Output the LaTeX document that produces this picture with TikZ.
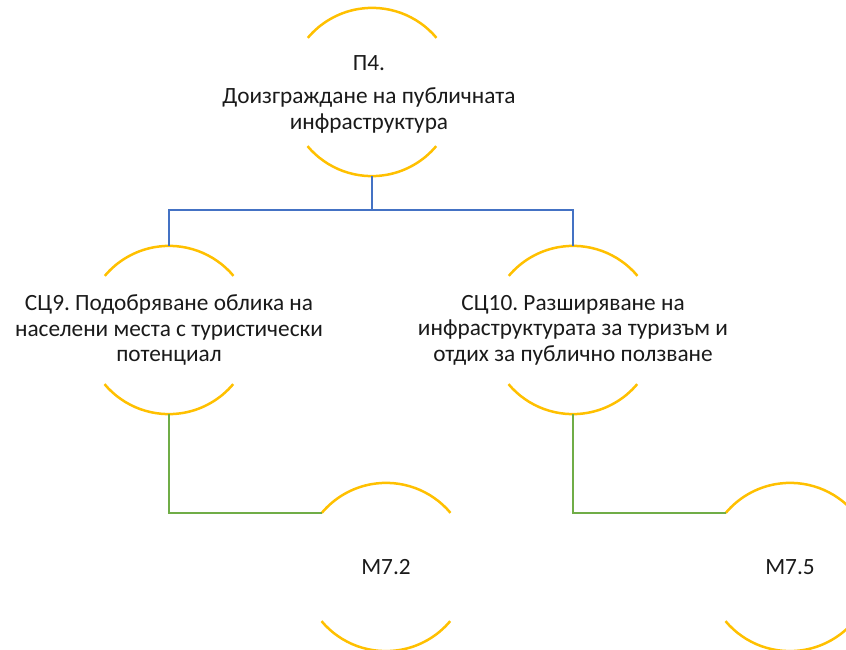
\documentclass[tikz,border=0pt]{standalone}
\usepackage{fontspec}
\setmainfont{Carlito}
\frenchspacing
\definecolor{arcyellow}{HTML}{FFC000}
\definecolor{linkblue}{HTML}{4472C4}
\definecolor{linkgreen}{HTML}{70AD47}
\definecolor{txt}{HTML}{1A1A1A}
\begin{document}
\begin{tikzpicture}[x=1pt,y=-1pt,
  ring/.style={circle,minimum size=168pt,inner sep=0pt,draw=none},
  label/.style={align=center,text=txt,font=\fontsize{23.3}{25.5}\selectfont\frenchspacing,inner sep=0pt},
  arcline/.style={draw=arcyellow,line width=2.5pt},
  bluelink/.style={draw=linkblue,line width=2.5pt},
  greenlink/.style={draw=linkgreen,line width=2.5pt}]
\useasboundingbox (0,0) rectangle (846,650);
\clip (0,0) rectangle (846,650);
% circle frames
\node[ring] (p4c) at (372,92) {};
\node[ring] (sc9c) at (169,330) {};
\node[ring] (sc10c) at (573,330) {};
\node[ring] (m72c) at (386,567) {};
\node[ring] (m75c) at (790,567) {};
% arcs (top and bottom parts of each circle)
\foreach \n in {p4c,sc9c,sc10c,m72c,m75c}{
  \draw[arcline] (\n.40) arc[start angle=40,end angle=140,radius=84pt];
  \draw[arcline] (\n.220) arc[start angle=220,end angle=320,radius=84pt];
}
% texts
\node[label] (p4) at (369,94) {П4.\\[8pt]Доизграждане на публичната\\инфраструктура};
\node[label] (sc9) at (169,330) {СЦ9. Подобряване облика на\\населени места с туристически\\потенциал};
\node[label] (sc10) at (573,330) {СЦ10. Разширяване на\\инфраструктурата за туризъм и\\отдих за публично ползване};
\node[label] (m72) at (386,567) {М7.2};
\node[label] (m75) at (790,567) {М7.5};
% connectors
\draw[bluelink] (p4c.south) -- ++(0,34) -| (sc9c.north);
\draw[bluelink] (p4c.south) -- ++(0,34) -| (sc10c.north);
\draw[greenlink] (sc9c.south) |- (m72c.140);
\draw[greenlink] (sc10c.south) |- (m75c.140);
\end{tikzpicture}
\end{document}
